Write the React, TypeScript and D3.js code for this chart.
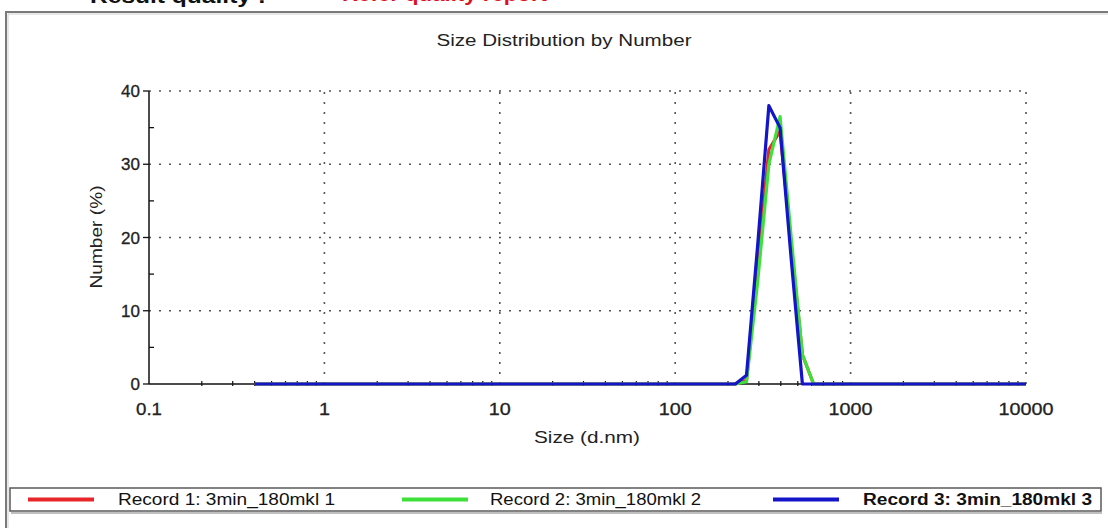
import * as d3 from "d3";
import React from "react";

const W = 1108;
const H = 528;

// Zetasizer size classes (d.nm)
const sizes = [
  0.4, 0.4632, 0.5365, 0.6213, 0.7195, 0.8332, 0.965, 1.117, 1.294, 1.499,
  1.736, 2.01, 2.328, 2.696, 3.122, 3.615, 4.187, 4.849, 5.615, 6.503,
  7.531, 8.721, 10.1, 11.7, 13.54, 15.69, 18.17, 21.04, 24.36, 28.21,
  32.67, 37.84, 43.82, 50.75, 58.77, 68.06, 78.82, 91.28, 105.7, 122.4,
  141.8, 164.2, 190.1, 220.2, 255.0, 295.3, 342.0, 396.1, 458.7, 531.2,
  615.1, 712.4, 825.0, 955.4, 1106, 1281, 1484, 1718, 1990, 2305,
  2669, 3091, 3580, 4145, 4801, 5560, 6439, 7456, 8635, 10000,
];

const record1 = [
  0, 0, 0, 0, 0, 0, 0, 0, 0, 0,
  0, 0, 0, 0, 0, 0, 0, 0, 0, 0,
  0, 0, 0, 0, 0, 0, 0, 0, 0, 0,
  0, 0, 0, 0, 0, 0, 0, 0, 0, 0,
  0, 0, 0, 0, 0.5, 16, 32, 34.5, 19, 4,
  0, 0, 0, 0, 0, 0, 0, 0, 0, 0,
  0, 0, 0, 0, 0, 0, 0, 0, 0, 0,
];
const record2 = [
  0, 0, 0, 0, 0, 0, 0, 0, 0, 0,
  0, 0, 0, 0, 0, 0, 0, 0, 0, 0,
  0, 0, 0, 0, 0, 0, 0, 0, 0, 0,
  0, 0, 0, 0, 0, 0, 0, 0, 0, 0,
  0, 0, 0, 0, 0.3, 14, 30, 36.5, 20, 4,
  0, 0, 0, 0, 0, 0, 0, 0, 0, 0,
  0, 0, 0, 0, 0, 0, 0, 0, 0, 0,
];
const record3 = [
  0, 0, 0, 0, 0, 0, 0, 0, 0, 0,
  0, 0, 0, 0, 0, 0, 0, 0, 0, 0,
  0, 0, 0, 0, 0, 0, 0, 0, 0, 0,
  0, 0, 0, 0, 0, 0, 0, 0, 0, 0,
  0, 0, 0, 0, 1.2, 19, 38, 35, 17, 0,
  0, 0, 0, 0, 0, 0, 0, 0, 0, 0,
  0, 0, 0, 0, 0, 0, 0, 0, 0, 0,
];

const seriesNames = [
  "Record 1: 3min_180mkl 1",
  "Record 2: 3min_180mkl 2",
  "Record 3: 3min_180mkl 3",
];
const seriesColors = ["#e8262a", "#3ee03a", "#1414c8"];

const xTicks = [0.1, 1, 10, 100, 1000, 10000];
const yTicks = [0, 10, 20, 30, 40];
const yMinor = [5, 15, 25, 35];

const FONT = "Arial, 'Liberation Sans', sans-serif";

export default function App() {
  const x = d3.scaleLog().domain([0.1, 10000]).range([149, 1026]);
  const y = d3.scaleLinear().domain([0, 40]).range([384, 91]);

  const line = d3
    .line<number>()
    .x((_, i) => x(sizes[i]))
    .y((d) => y(d));

  const all = [record1, record2, record3];

  // minor ticks 2..9 in each decade
  const minorX: number[] = [];
  for (let e = -1; e < 4; e++) {
    for (let m = 2; m <= 9; m++) minorX.push(m * Math.pow(10, e));
  }

  const legendX = [28, 402, 773];
  const legendTextX = [118, 490, 863];
  const legendLen = [217, 211, 229];

  return (
    <svg
      width={W}
      height={H}
      style={{ position: "absolute", left: 0, top: 0, background: "#fff" }}
      fontFamily={FONT}
    >
      {/* header line, cut by the top edge */}
      <text x={90} y={2.5} fontSize={21} fontWeight="bold" fill="#111" textLength={176} lengthAdjust="spacingAndGlyphs">
        Result quality :
      </text>
      <text x={342} y={0.5} fontSize={21} fontWeight="bold" fill="#e01020" textLength={205} lengthAdjust="spacingAndGlyphs">
        Refer quality report
      </text>

      {/* outer frame */}
      <path d={`M6,${H} V12 H${W}`} fill="none" stroke="#7a7a7a" strokeWidth={2} />
      <path d={`M8,${H} V14 H${W}`} fill="none" stroke="#d0d0d0" strokeWidth={1} />

      <text x={564} y={46} fontSize={16} textAnchor="middle" fill="#222" textLength={255} lengthAdjust="spacingAndGlyphs">
        Size Distribution by Number
      </text>

      {/* grid */}
      {yTicks.filter((t) => t > 0).map((t) => (
        <line key={"gy" + t} x1={x(0.1)} x2={x(10000)} y1={y(t)} y2={y(t)}
          stroke="#555" strokeWidth={1.6} strokeDasharray="2 8" />
      ))}
      {xTicks.filter((t) => t > 0.1).map((t) => (
        <line key={"gx" + t} x1={x(t)} x2={x(t)} y1={y(0)} y2={y(40)}
          stroke="#555" strokeWidth={1.6} strokeDasharray="2 8" />
      ))}

      {/* axes */}
      <line x1={x(0.1)} x2={x(10000)} y1={y(0)} y2={y(0)} stroke="#111" strokeWidth={1.3} />
      <line x1={x(0.1)} x2={x(0.1)} y1={y(0)} y2={y(40)} stroke="#111" strokeWidth={1.5} />
      {yTicks.map((t) => (
        <line key={"ty" + t} x1={x(0.1) - 6} x2={x(0.1)} y1={y(t)} y2={y(t)} stroke="#111" strokeWidth={1.3} />
      ))}
      {yMinor.map((t) => (
        <line key={"my" + t} x1={x(0.1)} x2={x(0.1) + 5} y1={y(t)} y2={y(t)} stroke="#111" strokeWidth={1.3} />
      ))}
      {minorX.map((t) => (
        <line key={"mx" + t} x1={x(t)} x2={x(t)} y1={y(0) - 3} y2={y(0) + 2} stroke="#111" strokeWidth={1.2} />
      ))}

      {/* tick labels */}
      {yTicks.map((t) => (
        <text key={"ly" + t} x={140} y={y(t) + 6} fontSize={17} textAnchor="end" fill="#222"
          stroke="#222" strokeWidth={0.3}>
          {t}
        </text>
      ))}
      {xTicks.map((t) => (
        <text key={"lx" + t} x={x(t)} y={415} fontSize={17} textAnchor="middle" fill="#222"
          stroke="#222" strokeWidth={0.3}
          textLength={String(t).replace(".", "").length * 11 + (String(t).includes(".") ? 4 : 0)}
          lengthAdjust="spacingAndGlyphs">
          {t}
        </text>
      ))}

      <text x={587} y={443} fontSize={17} textAnchor="middle" fill="#222" textLength={106} lengthAdjust="spacingAndGlyphs">
        Size (d.nm)
      </text>
      <text transform={`translate(102,237) rotate(-90)`} fontSize={16} textAnchor="middle" fill="#222"
        textLength={103} lengthAdjust="spacingAndGlyphs">
        Number (%)
      </text>

      {/* curves */}
      {all.map((s, i) => (
        <path key={"s" + i} d={line(s) || ""} fill="none" stroke={seriesColors[i]}
          strokeWidth={3.2} strokeLinejoin="round" />
      ))}

      {/* legend */}
      <rect x={10} y={488} width={1091} height={23} fill="#fff" stroke="#5a5a5a" strokeWidth={1.5} />
      <line x1={11} x2={1102} y1={513} y2={513} stroke="#aaa" strokeWidth={1.5} />
      {seriesNames.map((n, i) => (
        <g key={"lg" + i}>
          <line x1={legendX[i]} x2={legendX[i] + 66} y1={499.5} y2={499.5} stroke={seriesColors[i]} strokeWidth={4} />
          <text x={legendTextX[i]} y={505} fontSize={16} fill="#111" fontWeight={i === 2 ? "bold" : "normal"}
            textLength={legendLen[i]} lengthAdjust="spacingAndGlyphs">
            {n}
          </text>
        </g>
      ))}
    </svg>
  );
}
